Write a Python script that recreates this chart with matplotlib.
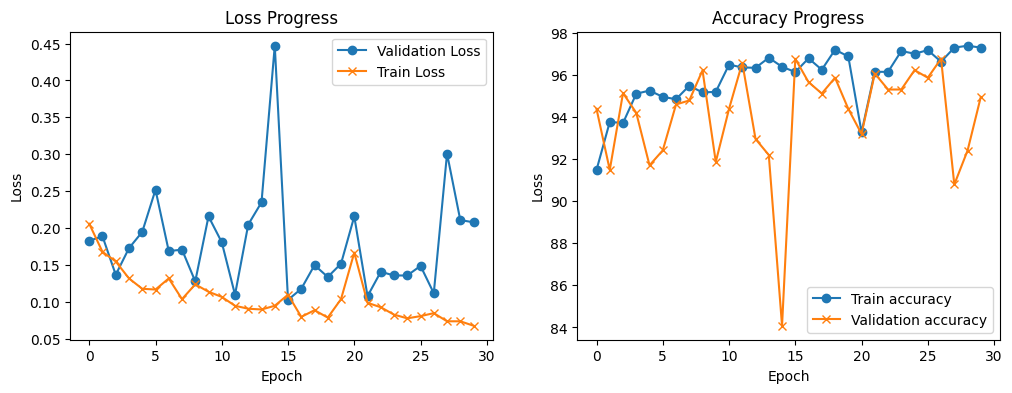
import matplotlib
matplotlib.use("Agg")
import matplotlib.pyplot as plt

epochs = list(range(30))

val_loss = [0.183, 0.189, 0.137, 0.173, 0.195, 0.252, 0.169, 0.171, 0.128, 0.216,
            0.181, 0.110, 0.205, 0.235, 0.447, 0.103, 0.118, 0.150, 0.134, 0.152,
            0.216, 0.108, 0.141, 0.136, 0.136, 0.149, 0.112, 0.301, 0.211, 0.208]
train_loss = [0.206, 0.168, 0.155, 0.132, 0.118, 0.117, 0.132, 0.104, 0.124, 0.114,
              0.107, 0.095, 0.091, 0.090, 0.095, 0.110, 0.080, 0.089, 0.079, 0.104,
              0.167, 0.099, 0.093, 0.083, 0.078, 0.081, 0.085, 0.074, 0.074, 0.068]

train_acc = [91.48, 93.76, 93.71, 95.10, 95.25, 94.95, 94.84, 95.48, 95.16, 95.19,
             96.48, 96.35, 96.33, 96.81, 96.38, 96.13, 96.78, 96.24, 97.19, 96.87,
             93.27, 96.14, 96.14, 97.13, 97.00, 97.17, 96.62, 97.29, 97.38, 97.29]
val_acc = [94.38, 91.48, 95.13, 94.19, 91.70, 92.41, 94.59, 94.78, 96.21, 91.86,
           94.38, 96.57, 92.95, 92.19, 84.08, 96.76, 95.65, 95.11, 95.86, 94.38,
           93.19, 96.06, 95.30, 95.30, 96.22, 95.86, 96.76, 90.79, 92.40, 94.95]

fig, (ax1, ax2) = plt.subplots(1, 2, figsize=(12, 4))

ax1.plot(epochs, val_loss, marker='o', label='Validation Loss')
ax1.plot(epochs, train_loss, marker='x', label='Train Loss')
ax1.set_title('Loss Progress')
ax1.set_xlabel('Epoch')
ax1.set_ylabel('Loss')
ax1.legend(loc='upper right')

ax2.plot(epochs, train_acc, marker='o', label='Train accuracy')
ax2.plot(epochs, val_acc, marker='x', label='Validation accuracy')
ax2.set_title('Accuracy Progress')
ax2.set_xlabel('Epoch')
ax2.set_ylabel('Loss')
ax2.legend(loc='lower right')

plt.savefig('out.png', dpi=100, bbox_inches='tight')
